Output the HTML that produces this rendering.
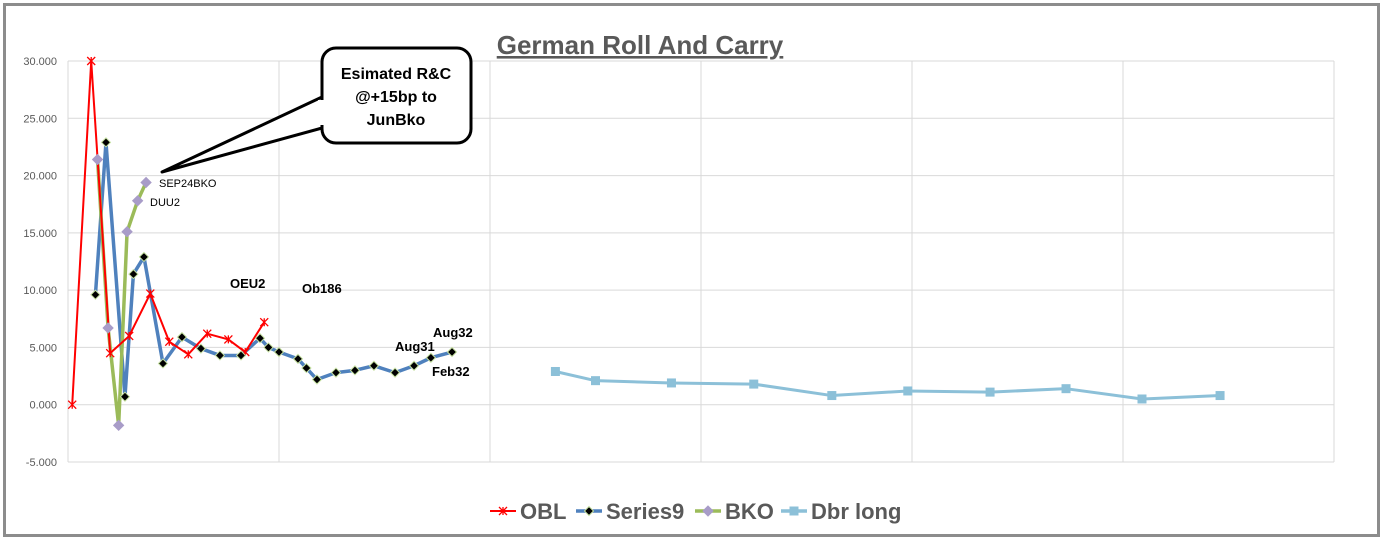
<!DOCTYPE html>
<html><head><meta charset="utf-8"><style>
body{margin:0;background:#fff;font-family:"Liberation Sans",sans-serif}
svg{display:block}
</style></head><body>
<svg id="chart" width="1385" height="541" xmlns="http://www.w3.org/2000/svg">
<rect x="0" y="0" width="1385" height="541" fill="#fff"/>
<rect x="4.5" y="4.5" width="1374" height="531" fill="#fff" stroke="#8c8c8c" stroke-width="3"/>
<g id="grid"></g>
<g id="yticks"></g>
<text x="640" y="54" text-anchor="middle" font-size="26" font-weight="bold" fill="#595959" text-decoration="underline">German Roll And Carry</text>
<g id="series"></g>
<g>
<path d="M162,172 L322,97 L322,128 Z" fill="#fff" stroke="#000" stroke-width="3" stroke-linejoin="round"/>
<rect x="322" y="48" width="149" height="95" rx="14" fill="#fff" stroke="#000" stroke-width="3"/>
<rect x="318" y="100" width="8" height="25" fill="#fff"/>
<text x="396" y="79" text-anchor="middle" font-size="16" font-weight="bold">Esimated R&amp;C</text>
<text x="396" y="102" text-anchor="middle" font-size="16" font-weight="bold">@+15bp to</text>
<text x="396" y="125" text-anchor="middle" font-size="16" font-weight="bold">JunBko</text>
</g>
<g font-size="11" fill="#000">
<text x="159" y="187">SEP24BKO</text>
<text x="150" y="206">DUU2</text>
</g>
<g font-size="13" font-weight="bold" fill="#000">
<text x="230" y="288">OEU2</text>
<text x="302" y="293">Ob186</text>
<text x="433" y="337">Aug32</text>
<text x="395" y="351">Aug31</text>
<text x="432" y="376">Feb32</text>
</g>
<g id="legend" font-size="22" font-weight="bold" fill="#595959"></g>
</svg>
<script>
const yTicks=[30,25,20,15,10,5,0,-5];
const oblX=[0.2,1.1,2.0,2.9,3.9,4.8,5.7,6.6,7.6,8.4,9.3];
const oblY=[0.0,30.0,4.5,6.0,9.7,5.5,4.4,6.2,5.7,4.6,7.2];
const s9X=[1.3,1.8,2.7,3.1,3.6,4.5,5.4,6.3,7.2,8.2,9.1,9.5,10.0,10.9,11.3,11.8,12.7,13.6,14.5,15.5,16.4,17.2,18.2];
const s9Y=[9.6,22.9,0.7,11.4,12.9,3.6,5.9,4.9,4.3,4.3,5.8,5.0,4.6,4.0,3.2,2.2,2.8,3.0,3.4,2.8,3.4,4.1,4.6];
const bkoX=[1.4,1.9,2.4,2.8,3.3,3.7];
const bkoY=[21.4,6.7,-1.8,15.1,17.8,19.4];
const dbrX=[23.1,25.0,28.6,32.5,36.2,39.8,43.7,47.3,50.9,54.6];
const dbrY=[2.9,2.1,1.9,1.8,0.8,1.2,1.1,1.4,0.5,0.8];
const xGrid=[0,10,20,30,40,50,60];
const NS="http://www.w3.org/2000/svg";
const X0=68,X1=1334,Y0=61,Y1=462;
const sx=v=>X0+v/60*(X1-X0);
const sy=v=>Y0+(30-v)/35*(Y1-Y0);
function mk(tag,attrs,parent){const e=document.createElementNS(NS,tag);for(const k in attrs)e.setAttribute(k,attrs[k]);parent.appendChild(e);return e;}
const grid=document.getElementById('grid'),yt=document.getElementById('yticks'),ser=document.getElementById('series'),leg=document.getElementById('legend');
yTicks.forEach(t=>{const l=mk('line',{x1:X0,x2:X1,y1:sy(t),y2:sy(t),stroke:'#d9d9d9','stroke-width':1},grid);


const tx=mk('text',{x:57,y:sy(t)+4,'text-anchor':'end','font-size':11,fill:'#595959'},yt);


tx.textContent=t.toFixed(3);});
xGrid.forEach(g=>{const l=mk('line',{x1:sx(g),x2:sx(g),y1:Y0,y2:Y1,stroke:'#d9d9d9','stroke-width':1},grid);

});
function line(xs,ys,color,w,name){const p=mk('polyline',{points:xs.map((x,i)=>sx(x)+','+sy(ys[i])).join(' '),fill:'none',stroke:color,'stroke-width':w,'stroke-linejoin':'round'},ser);

}
line(s9X,s9Y,'#4f81bd',3.5,'series9-line');
line(bkoX,bkoY,'#9bbb59',3.5,'bko-line');
line(oblX,oblY,'#ff0000',2,'obl-line');
line(dbrX,dbrY,'#8cc0d8',3,'dbr-long-line');
function cross(cx,cy,g){mk('path',{d:`M${cx-4},${cy-4}L${cx+4},${cy+4}M${cx-4},${cy+4}L${cx+4},${cy-4}M${cx},${cy-4}L${cx},${cy+4}`,stroke:'#ff0000','stroke-width':1.3},g);}
function dia(cx,cy,r,fill,stroke,g){mk('path',{d:`M${cx},${cy-r}L${cx+r},${cy}L${cx},${cy+r}L${cx-r},${cy}Z`,fill:fill,stroke:stroke,'stroke-width':1},g);}
oblX.forEach((x,i)=>{const g=mk('g',{},ser);
cross(sx(x),sy(oblY[i]),g);});
s9X.forEach((x,i)=>{const g=mk('g',{},ser);
dia(sx(x),sy(s9Y[i]),4.5,'#000','#c5e0a0',g);});
bkoX.forEach((x,i)=>{const g=mk('g',{},ser);
dia(sx(x),sy(bkoY[i]),5,'#a89cc8','#a89cc8',g);});
dbrX.forEach((x,i)=>{const r=mk('rect',{x:sx(x)-4.5,y:sy(dbrY[i])-4.5,width:9,height:9,fill:'#8cc0d8'},ser);

});
// legend
const L=[['OBL',492,'obl'],['Series9',578,'s9'],['BKO',697,'bko'],['Dbr long',783,'dbr']];
L.forEach(([name,x,k])=>{const g=mk('g',{},leg);


const c={obl:'#ff0000',s9:'#4f81bd',bko:'#9bbb59',dbr:'#8cc0d8'}[k];
mk('line',{x1:x-2,x2:x+24,y1:511,y2:511,stroke:c,'stroke-width':k=='obl'?2:3.5},g);
if(k=='obl')cross(x+11,511,g);if(k=='s9')dia(x+11,511,4.5,'#000','#c5e0a0',g);if(k=='bko')dia(x+11,511,5,'#a89cc8','#a89cc8',g);if(k=='dbr')mk('rect',{x:x+6.5,y:506.5,width:9,height:9,fill:c},g);
const t=mk('text',{x:x+28,y:519},g);t.textContent=name;});
</script>
</body></html>
